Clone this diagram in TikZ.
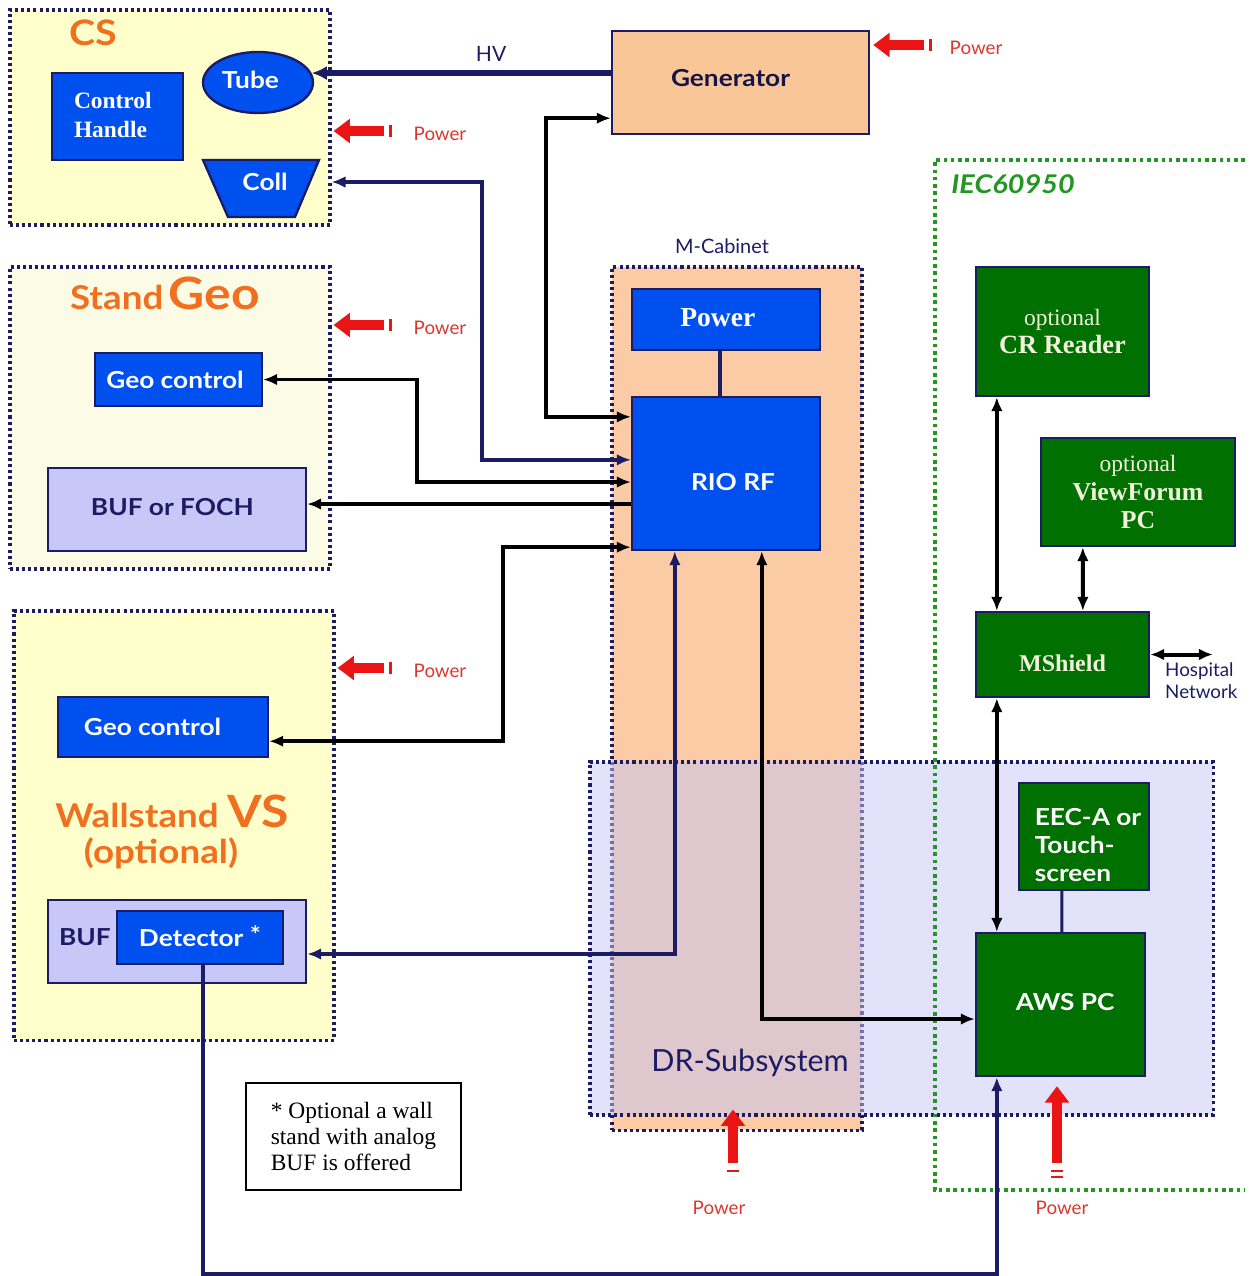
\documentclass[tikz,border=0pt]{standalone}
\usepackage{fontspec}
\setmainfont{Liberation Serif}
\setsansfont{Lato}
\newfontfamily\gillsans{Lato}[FakeStretch=1.12]
\usepackage{tikz}
\usetikzlibrary{arrows.meta,shapes.geometric,calc,positioning}
\definecolor{navy}{RGB}{28,28,100}
\definecolor{boxblue}{RGB}{0,80,240}
\definecolor{boxgreen}{RGB}{0,112,0}
\definecolor{cream}{RGB}{240,240,220}
\definecolor{peach}{RGB}{249,198,152}
\definecolor{cabpeach}{RGB}{250,203,165}
\definecolor{lyellow}{RGB}{255,255,204}
\definecolor{pyellow}{RGB}{252,252,230}
\definecolor{lav}{RGB}{200,200,248}
\definecolor{drlav}{RGB}{198,198,245}
\definecolor{orng}{RGB}{240,112,32}
\definecolor{iecgreen}{RGB}{36,150,36}
\definecolor{pwrred}{RGB}{235,20,20}
\definecolor{pwrtext}{RGB}{220,55,45}
\newcommand{\nudge}[2]{\raisebox{#1}[\height][\depth]{#2}} % move text, keep box

\begin{document}
\begin{tikzpicture}[x=0.03cm, y=-0.03cm,
    panel/.style={draw=navy, line width=2.6pt, dash pattern=on 2.6pt off 2.6pt, inner sep=0pt},
    box/.style={draw=navy, line width=2pt, inner sep=0pt},
    bluebox/.style={box, fill=boxblue, text=white, font=\gillsans\bfseries\fontsize{20}{24}\selectfont},
    greenbox/.style={box, fill=boxgreen, text=cream, align=center, font=\fontsize{20}{24}\selectfont},
    lavbox/.style={box, fill=lav, text=navy, font=\gillsans\bfseries\fontsize{20}{24}\selectfont},
    title/.style={text=orng, font=\gillsans\bfseries\fontsize{28}{32}\selectfont},
    link/.style={line width=3.4pt, -{Latex[length=12pt,width=10pt]}},
    dlink/.style={line width=3.4pt, {Latex[length=12pt,width=10pt]}-{Latex[length=12pt,width=10pt]}},
    pwr/.style={pwrred, line width=8.5pt, -{Triangle[length=14pt,width=20pt]}},
    pwrtick/.style={pwrred, line width=2pt},
    pwrtxt/.style={text=pwrtext, inner sep=0pt, font=\sffamily\fontsize{16}{18}\selectfont}]
\useasboundingbox (0,0) rectangle (1253,1276);

% panels
\node[panel, fill=lyellow, minimum width=9.6cm, minimum height=6.45cm] (cs) at (170,117.5) {};
\node[panel, fill=pyellow, minimum width=9.6cm, minimum height=9.06cm] (stand) at (170,418) {};
\node[panel, fill=lyellow, minimum width=9.6cm, minimum height=12.87cm] (wall) at (174,825.5) {};
\node[panel, fill=cabpeach, minimum width=7.5cm, minimum height=25.89cm] (mcab) at (737,698.5) {};
\node[panel, fill=drlav, fill opacity=0.5, minimum width=18.69cm, minimum height=10.59cm] (dr) at (901.5,938.5) {};
\draw[iecgreen, line width=3pt, dash pattern=on 3pt off 3.2pt] (1245,160) -- (935,160) -- (935,1190) -- (1245,1190);

\node[title, font=\gillsans\bfseries\fontsize{30}{34}\selectfont] (cst) at (93,33) {CS};
\node[title] (standt) at (165,293) {Stand\,{\fontsize{38}{42}\selectfont Geo}};
\node[title] (wallt) at (172,811) {Wallstand {\fontsize{38}{42}\selectfont VS}};
\node[title] (wopt) at (161,853) {(optional)};
\node[text=navy, font=\sffamily\fontsize{17}{20}\selectfont] (mcabl) at (722,246) {M-Cabinet};
\node[text=navy, font=\sffamily\fontsize{26}{30}\selectfont] (drl) at (750,1063) {DR-Subsystem};
\node[text=iecgreen, font=\gillsans\bfseries\itshape\fontsize{22}{25}\selectfont] (iecl) at (1013,184) {IEC60950};

% CS
\node[bluebox, font=\bfseries\fontsize{20}{23}\selectfont, align=left, minimum width=3.93cm, minimum height=2.61cm] (ch) at (117.5,116.5) {\nudge{2pt}{Control}\\Handle\hspace*{12pt}};
\node[bluebox, ellipse, minimum width=3.3cm, minimum height=1.83cm] (tube) at (258,82.5) {\nudge{2.5pt}{Tube}\hspace*{13pt}};
\draw[box, fill=boxblue] (203,160) -- (319,160) -- (295,217) -- (228,217) -- cycle;
\node[bluebox, draw=none, fill=none] (coll) at (265,182) {Coll};

\node[box, fill=peach, text=navy!70!black, font=\gillsans\bfseries\fontsize{20}{24}\selectfont, minimum width=7.71cm, minimum height=3.09cm] (gen) at (740.5,82.5) {\nudge{3.5pt}{Generator}\hspace*{17pt}};

% Stand Geo
\node[bluebox, minimum width=5.01cm, minimum height=1.59cm] (geoa) at (178.5,379.5) {Geo control\hspace*{6pt}};
\node[lavbox, minimum width=7.74cm, minimum height=2.49cm] (bufa) at (177,509.5) {\nudge{2.5pt}{BUF or FOCH}\hspace*{8pt}};

% Wallstand
\node[bluebox, minimum width=6.3cm, minimum height=1.8cm] (geob) at (163,727) {Geo control\hspace*{18pt}};
\node[lavbox, minimum width=7.74cm, minimum height=2.49cm] (bufb) at (177,941.5) {};
\node[lavbox, draw=none, fill=none] (buft) at (85,937) {BUF};
\node[bluebox, minimum width=4.98cm, minimum height=1.59cm] (det) at (200,937.5) {Detector \nudge{2pt}{*}};

\node[draw=black, line width=1.2pt, align=left, font=\fontsize{20}{22}\selectfont, minimum width=6.45cm, minimum height=3.21cm] (note) at (353.5,1136.5) {* Optional a wall\\stand with analog\\BUF is offered\hspace*{10pt}};

% M-Cabinet
\node[bluebox, font=\bfseries\fontsize{23.5}{26}\selectfont, minimum width=5.64cm, minimum height=1.83cm] (pwrbox) at (726,319.5) {\nudge{2pt}{Power}\hspace*{14pt}};
\node[bluebox, minimum width=5.64cm, minimum height=4.59cm] (rio) at (726,473.5) {\hspace*{12pt}\nudge{-7.5pt}{RIO RF}};

% IEC60950
\node[greenbox, minimum width=5.19cm, minimum height=3.87cm] (cr) at (1062.5,331.5) {optional\\{\bfseries\fontsize{22.5}{26}\selectfont CR Reader}};
\node[greenbox, minimum width=5.82cm, minimum height=3.24cm] (vf) at (1138,492) {optional\\{\bfseries\fontsize{22}{26}\selectfont ViewForum}\\{\bfseries\fontsize{22}{26}\selectfont PC}};
\node[greenbox, font=\bfseries\fontsize{20.5}{24}\selectfont, minimum width=5.19cm, minimum height=2.55cm] (ms) at (1062.5,654.5) {\nudge{-7.5pt}{MShield}};
\node[greenbox, minimum width=3.9cm, minimum height=3.21cm] (eec) at (1084,836.5) {};
\node[text=white, align=left, inner sep=0pt, font=\gillsans\bfseries\fontsize{20}{24}\selectfont] (eect) at (1088,845) {EEC-A or\\Touch-\\screen};
\node[greenbox, text=white, font=\gillsans\bfseries\fontsize{20}{24}\selectfont, minimum width=5.07cm, minimum height=4.29cm] (aws) at (1060.5,1004.5) {\nudge{2.5pt}{AWS PC}\hspace*{-8pt}};
\coordinate (hosp) at (1213,654.5);
\node[anchor=north west, align=left, text=navy, inner sep=0pt, font=\sffamily\fontsize{16}{19}\selectfont] (hn) at (1165,662) {Hospital\\Network};

% connectors
\draw[navy, line width=4.4pt, -{Latex[length=13pt,width=12pt]}] (gen.west |- tube.10) -- node[pos=0.4, above=4pt, text=navy, font=\sffamily\fontsize{18}{22}\selectfont] (hv) {HV} (tube.10);
\draw[dlink] ($(gen.south west)+(0,-17)$) -| ($(rio.north west)+(-85,21)$) -- ($(rio.north west)+(0,21)$);
\draw[dlink, navy] (cs.east |- coll) -| ($(rio.north west)+(-149,64)$) -- ($(rio.north west)+(0,64)$);
\draw[dlink] (geoa.east) -| ($(rio.west)+(-214,8.5)$) -- ($(rio.west)+(0,8.5)$);
\draw[link] ($(rio.west)+(0,30.5)$) -- ($(bufa.east)+(0,-5.5)$);
\draw[dlink] ($(geob.south east)+(0,-17)$) -| ($(rio.south west)+(-128,-4)$) -- ($(rio.south west)+(0,-4)$);
\draw[dlink, navy] ($(bufb.east)+(0,12.5)$) -| ($(rio.south west)+(44,0)$);
\draw[dlink] ($(rio.south west)+(131,0)$) |- ($(aws.west)+(0,14.5)$);
\draw[link, navy] ($(det.south)+(3,0)$) -- ++(0,309) -| ($(aws.south west)+(22,0)$);
\draw[navy, line width=2.6pt] ($(pwrbox.south)+(-6,0)$) -- ($(rio.north)+(-6,0)$);
\draw[dlink] ($(cr.south west)+(22,0)$) -- ($(ms.north west)+(22,0)$);
\draw[dlink] ($(vf.south west)+(43,0)$) -- ($(ms.north west)+(108,0)$);
\draw[dlink] ($(ms.south west)+(22,0)$) -- ($(aws.north west)+(22,0)$);
\draw[dlink] (ms.east) -- (hosp);
\draw[navy, line width=2.6pt] ($(eec.south west)+(44,0)$) -- ($(aws.north west)+(87,0)$);

% power feeds
\node[pwrtxt] (pt1) at (440,134) {Power};
\draw[pwr] ($(pt1.west)+(-29,-3)$) -- ($(cs.east |- pt1)+(2,-3)$);
\draw[pwrtick] ($(pt1.west)+(-23,-9)$) -- ++(0,12);
\node[pwrtxt] (pt2) at (976,48) {Power};
\draw[pwr] ($(pt2.west)+(-25,-3)$) -- ($(gen.east |- pt2)+(3,-3)$);
\draw[pwrtick] ($(pt2.west)+(-19,-9)$) -- ++(0,12);
\node[pwrtxt] (pt3) at (440,328) {Power};
\draw[pwr] ($(pt3.west)+(-29,-3)$) -- ($(stand.east |- pt3)+(2,-3)$);
\draw[pwrtick] ($(pt3.west)+(-23,-9)$) -- ++(0,12);
\node[pwrtxt] (pt4) at (440,671) {Power};
\draw[pwr] ($(pt4.west)+(-29,-3)$) -- ($(wall.east |- pt4)+(2,-3)$);
\draw[pwrtick] ($(pt4.west)+(-23,-9)$) -- ++(0,12);
\node[pwrtxt] (pt5) at (719,1208) {Power};
\draw[pwr] ($(pt5.north)+(14,-38)$) -- ($(dr.south -| pt5)+(14,-7)$);
\draw[pwrtick] ($(pt5.north)+(8,-30)$) -- ++(12,0);
\node[pwrtxt] (pt6) at (1062,1208) {Power};
\draw[pwr] ($(pt6.north)+(-5,-38)$) -- ($(aws.south -| pt6)+(-5,9)$);
\draw[pwrtick] ($(pt6.north)+(-11,-30)$) -- ++(12,0);
\draw[pwrtick] ($(pt6.north)+(-11,-24)$) -- ++(12,0);
\end{tikzpicture}
\end{document}
